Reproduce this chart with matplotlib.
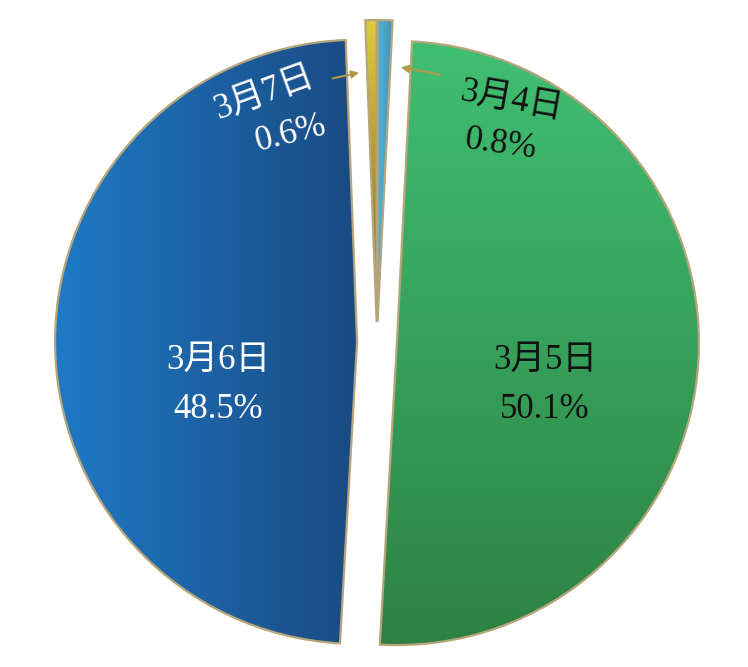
import numpy as np
import matplotlib
matplotlib.use("Agg")
import matplotlib.pyplot as plt
from matplotlib.colors import LinearSegmentedColormap

# data
dates = ["3月4日", "3月5日", "3月6日", "3月7日"]
shares = [0.8, 50.1, 48.5, 0.6]

# gradient colour pairs (start, end) and gradient direction per slice
grad_colors = [("#55b0d4", "#3e8fb6"),
               ("#40bf72", "#2d8243"),
               ("#1f7ac6", "#1a4a82"),
               ("#dccb3e", "#86602a")]
grad_dirs = ["h", "v", "h", "v"]
text_colors = ["#111111", "#111111", "white", "white"]

plt.rcParams["font.family"] = ["Liberation Serif", "Noto Sans CJK SC", "DejaVu Sans"]

fig = plt.figure(figsize=(7.48, 6.67), dpi=100)
ax = fig.add_axes([0, 0, 1, 1])

wedges, _ = ax.pie(shares, startangle=90, counterclock=False,
                   explode=[0.066] * 4, radius=1.0,
                   wedgeprops=dict(edgecolor="#b7a57a", linewidth=1.6))

for w, (c0, c1), d in zip(wedges, grad_colors, grad_dirs):
    cmap = LinearSegmentedColormap.from_list("g", [c0, c1])
    g = np.linspace(0, 1, 256)
    if d == "h":
        img = g[np.newaxis, :]
    else:
        img = g[:, np.newaxis]
    bb = w.get_path().get_extents()
    im = ax.imshow(img, cmap=cmap, aspect="auto", interpolation="bicubic",
                   extent=[bb.x0, bb.x1, bb.y0, bb.y1],
                   origin="upper", zorder=1)
    im.set_clip_path(w)
    w.set_facecolor("none")
    w.set_zorder(2)

fs = 25
# big slices
ax.text(-0.526, -0.06, dates[2], color=text_colors[2], fontsize=fs, ha="center", va="center", zorder=5)
ax.text(-0.526, -0.225, "%.1f%%" % shares[2], color=text_colors[2], fontsize=fs, ha="center", va="center", zorder=5)
ax.text(0.556, -0.06, dates[1], color=text_colors[1], fontsize=fs, ha="center", va="center", zorder=5)
ax.text(0.556, -0.225, "%.1f%%" % shares[1], color=text_colors[1], fontsize=fs, ha="center", va="center", zorder=5)

# small slices with arrows
ax.text(0.444, 0.80, dates[0], color=text_colors[0], fontsize=fs, ha="center", va="center",
        rotation=-10, zorder=5)
ax.text(0.41, 0.652, "%.1f%%" % shares[0], color=text_colors[0], fontsize=fs, ha="center",
        va="center", rotation=-8, zorder=5)
ax.text(-0.372, 0.825, dates[3], color=text_colors[3], fontsize=fs, ha="center", va="center",
        rotation=20, zorder=5)
ax.text(-0.285, 0.69, "%.1f%%" % shares[3], color=text_colors[3], fontsize=fs, ha="center",
        va="center", rotation=14, zorder=5)

arrow = dict(arrowstyle="-|>", color="#b39a48", lw=1.5, mutation_scale=11)
ax.annotate("", xy=(0.07, 0.911), xytext=(0.219, 0.884), arrowprops=arrow, zorder=6)
ax.annotate("", xy=(-0.05, 0.894), xytext=(-0.156, 0.871), arrowprops=arrow, zorder=6)

ax.set_xlim(-377 / 302, (748 - 377) / 302)
ax.set_ylim(-325 / 302, (667 - 325) / 302)
ax.set_aspect("equal")
ax.axis("off")

fig.savefig("out.png", dpi=100, facecolor="white")
